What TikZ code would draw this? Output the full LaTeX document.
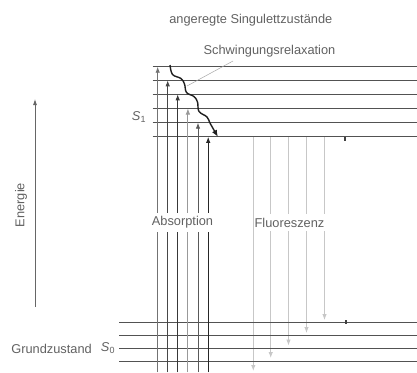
\documentclass[tikz,border=0pt]{standalone}
\usepackage{fontspec}
\setmainfont{Liberation Sans}
\usetikzlibrary{arrows.meta}
\begin{document}
\begin{tikzpicture}[x=1pt,y=-1pt,
  lvl/.style={draw=black!68, line width=0.9pt},
  lab/.style={text=black!62, font=\fontsize{12.8}{14}\selectfont, inner sep=1pt},
  absarr/.style={line width=0.9pt, -{Latex[length=6pt,width=4.5pt]}},
  fluarr/.style={draw=black!22, line width=0.9pt, -{Latex[length=6pt,width=4.5pt]}},
  leader/.style={draw=black!35, line width=0.5pt}]
\useasboundingbox (0,0) rectangle (417,372);

% energy axis
\coordinate (e0) at (35,307);
\coordinate (e1) at (35,99);
\draw[draw=black!60, line width=0.8pt, -{Latex[length=6pt,width=4pt]}] (e0) -- (e1);
\node[lab, rotate=90] (energie) at (21,205) {Energie};

% fluorescence arrows (behind levels)
\foreach \i/\x/\yt in {1/253.3/371, 2/270.7/358, 3/288.5/345.5, 4/306.5/333, 5/324.5/320}{
  \coordinate (f\i s) at (\x,137);
  \coordinate (f\i e) at (\x,\yt);
  \draw[fluarr] (f\i s) -- (f\i e);
}

% S1 levels
\foreach \i/\y in {1/66.7, 2/80.3, 3/94.3, 4/108.5, 5/122.7, 6/136.9}{
  \coordinate (u\i l) at (152.5,\y);
  \coordinate (u\i r) at (417,\y);
  \draw[lvl] (u\i l) -- (u\i r);
}
% S0 levels
\foreach \i/\y in {1/322.3, 2/335.7, 3/348.5, 4/361.7}{
  \coordinate (g\i l) at (119,\y);
  \coordinate (g\i r) at (417,\y);
  \draw[lvl] (g\i l) -- (g\i r);
}

% small marks
\fill[black!75] (344.3,136.5) rectangle (346.3,141);
\fill[black!75] (344.7,320.3) rectangle (346.7,324.3);

% absorption arrows
\foreach \i/\x/\y/\c in {1/157.7/66.7/55, 2/167.7/80.3/72, 3/177.7/94.3/78, 4/187.9/108.5/40, 5/198/122.7/65, 6/208.2/136.9/85}{
  \coordinate (a\i s) at (\x,372);
  \coordinate (a\i e) at (\x,\y);
  \draw[absarr, draw=black!\c, fill=black!\c] (a\i s) -- (a\i e);
}

% labels with white background
\node[lab, fill=white, inner ysep=4pt] (abs) at (182.5,222.5) {Absorption};
\node[lab, fill=white, inner ysep=4pt] (flu) at (289.5,222.5) {Fluoreszenz};

\node[lab] (ang) at (250.8,20) {angeregte Singulettzustände};
\node[lab] (schw) at (269.5,51.5) {Schwingungsrelaxation};
\coordinate (leadtop) at (233,61);
\coordinate (lead) at (187,86);
\draw[leader] (leadtop) -- (lead);

\node[lab] (s1) at (139,117) {\textit{S}\textsubscript{1}};
\node[lab] (s0) at (108,348.5) {\textit{S}\textsubscript{0}};
\node[lab, anchor=east] (grund) at (93,348.5) {Grundzustand};

% vibrational relaxation (wavy)
\draw[line width=1.4pt, black!88, -{Latex[length=7pt,width=5.5pt]}]
  plot[smooth, tension=0.6] coordinates {(170,65) (172.5,74.5) (181,78.5) (184.5,84) (186.5,92.5) (194,96.5) (197.5,102) (199,111.5) (207,117) (210.5,124) (218,137)};
\end{tikzpicture}
\end{document}
